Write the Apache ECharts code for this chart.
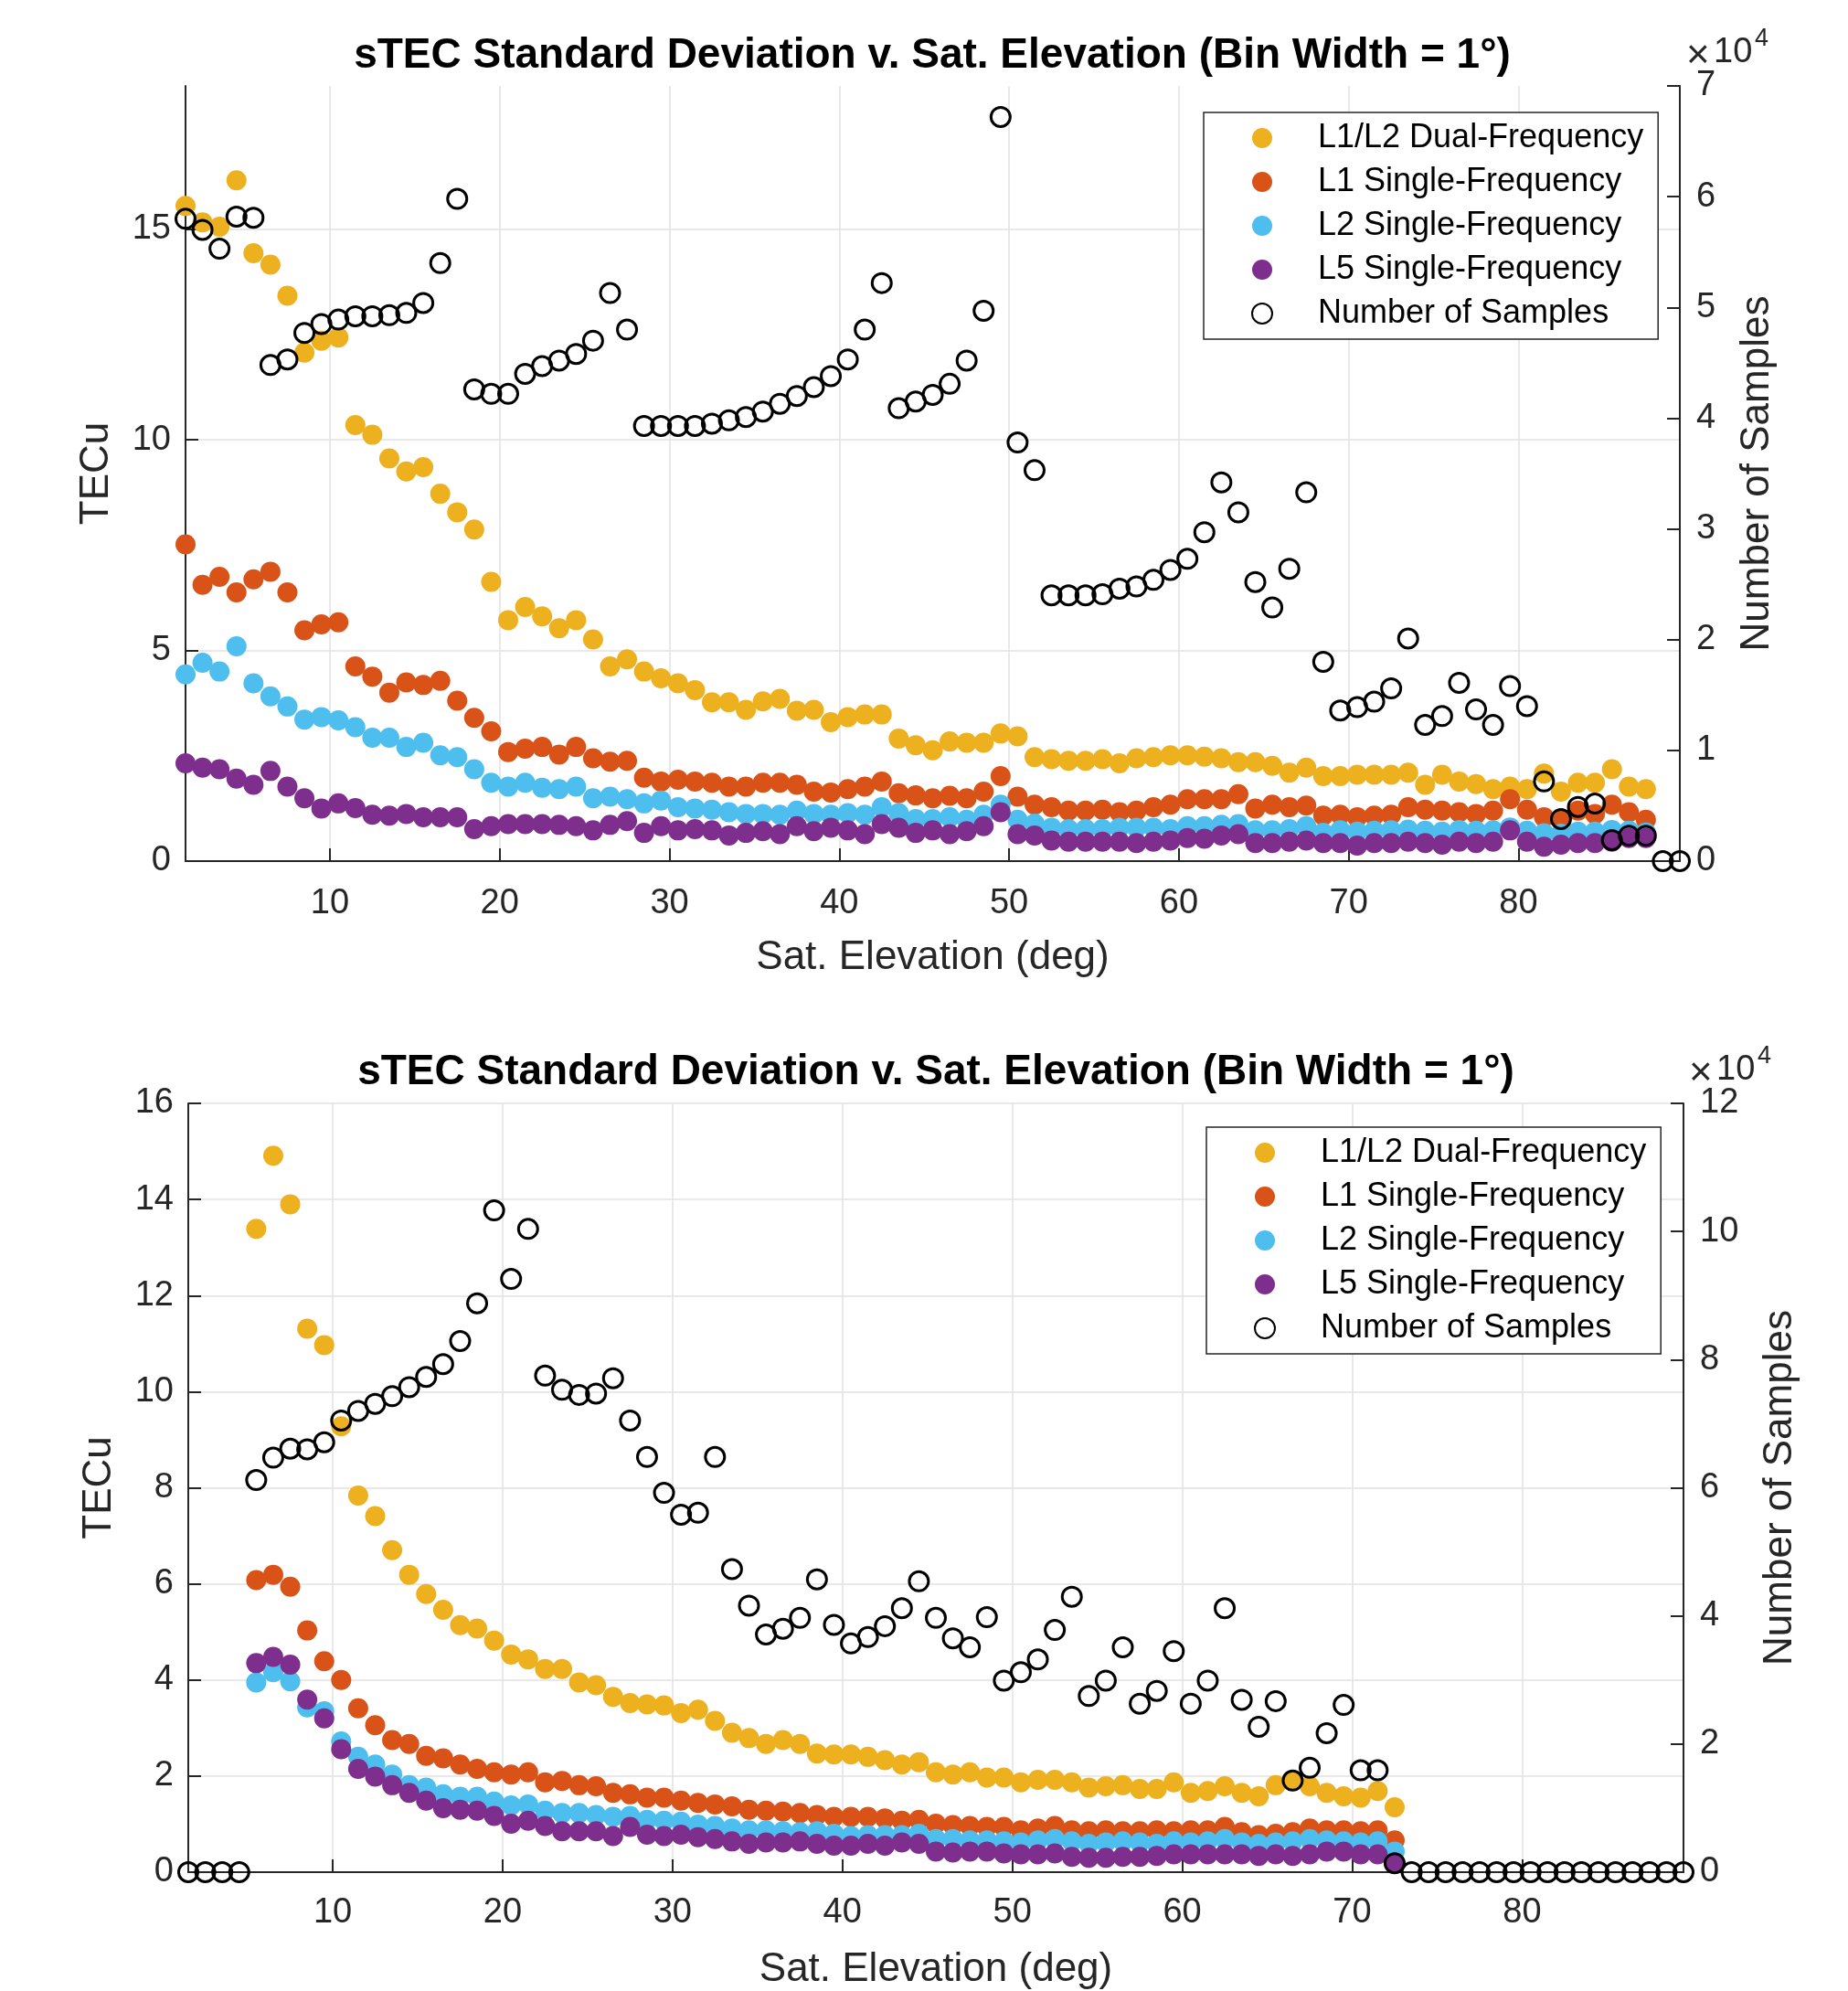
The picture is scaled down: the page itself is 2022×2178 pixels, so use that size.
<!DOCTYPE html>
<html><head><meta charset="utf-8">
<script src="https://cdn.jsdelivr.net/npm/echarts@6/dist/echarts.min.js"></script>
<style>html,body{margin:0;padding:0;background:#fff}#c{width:2022px;height:2178px}</style>
</head><body><div id="c"></div>
<script>
// Bin centres (deg)
const elevation = [1.5,2.5,3.5,4.5,5.5,6.5,7.5,8.5,9.5,10.5,11.5,12.5,13.5,14.5,15.5,16.5,17.5,18.5,19.5,20.5,
 21.5,22.5,23.5,24.5,25.5,26.5,27.5,28.5,29.5,30.5,31.5,32.5,33.5,34.5,35.5,36.5,37.5,38.5,39.5,40.5,
 41.5,42.5,43.5,44.5,45.5,46.5,47.5,48.5,49.5,50.5,51.5,52.5,53.5,54.5,55.5,56.5,57.5,58.5,59.5,60.5,
 61.5,62.5,63.5,64.5,65.5,66.5,67.5,68.5,69.5,70.5,71.5,72.5,73.5,74.5,75.5,76.5,77.5,78.5,79.5,80.5,
 81.5,82.5,83.5,84.5,85.5,86.5,87.5,88.5,89.5];
const xTicks = [10,20,30,40,50,60,70,80];
const seriesNames = ['L1/L2 Dual-Frequency','L1 Single-Frequency','L2 Single-Frequency','L5 Single-Frequency','Number of Samples'];

// ---------- Top panel (bins 1.5 .. 87.5 for TEC, 1.5 .. 89.5 for samples) ----------
const topDual = [15.55,15.16,15.06,16.16,14.43,14.16,13.42,12.07,12.35,12.43,10.35,10.12,9.56,9.25,9.35,8.72,8.28,7.87,6.63,5.72,
 6.03,5.81,5.53,5.72,5.26,4.62,4.79,4.50,4.34,4.22,4.06,3.77,3.77,3.59,3.79,3.85,3.57,3.59,3.30,3.42,
 3.48,3.48,2.91,2.75,2.63,2.84,2.81,2.81,3.03,2.96,2.47,2.42,2.38,2.38,2.42,2.32,2.44,2.47,2.51,2.51,
 2.48,2.44,2.35,2.35,2.26,2.10,2.22,2.02,2.02,2.05,2.05,2.05,2.10,1.81,2.05,1.89,1.83,1.71,1.77,1.71,
 2.08,1.65,1.86,1.86,2.18,1.77,1.71];
const topL1 = [7.52,6.56,6.75,6.38,6.69,6.87,6.38,5.48,5.62,5.67,4.62,4.38,4.00,4.24,4.18,4.28,3.81,3.40,3.08,2.59,
 2.67,2.71,2.53,2.71,2.44,2.36,2.38,1.98,1.89,1.93,1.89,1.86,1.77,1.77,1.86,1.86,1.81,1.65,1.63,1.71,
 1.77,1.89,1.61,1.56,1.49,1.55,1.49,1.65,2.02,1.53,1.34,1.28,1.20,1.20,1.22,1.16,1.20,1.28,1.34,1.47,
 1.47,1.47,1.59,1.25,1.34,1.28,1.32,1.08,1.10,1.04,1.08,1.10,1.28,1.22,1.20,1.16,1.12,1.20,1.47,1.22,
 1.04,1.00,1.20,1.12,1.34,1.16,0.98];
const topL2 = [4.43,4.71,4.50,5.10,4.22,3.91,3.67,3.36,3.42,3.34,3.18,2.93,2.93,2.71,2.81,2.51,2.47,2.18,1.86,1.77,
 1.86,1.74,1.71,1.77,1.49,1.53,1.47,1.37,1.44,1.28,1.25,1.22,1.16,1.12,1.12,1.10,1.20,1.12,1.10,1.14,
 1.10,1.28,1.14,1.00,1.00,1.04,0.98,1.10,1.34,0.98,0.89,0.79,0.76,0.76,0.76,0.79,0.79,0.79,0.76,0.83,
 0.83,0.86,0.88,0.73,0.73,0.76,0.83,0.67,0.73,0.70,0.72,0.73,0.75,0.72,0.70,0.74,0.72,0.73,0.80,0.72,
 0.66,0.65,0.70,0.70,0.74,0.72,0.68];
const topL5 = [2.32,2.22,2.18,1.96,1.81,2.14,1.77,1.49,1.25,1.37,1.26,1.10,1.08,1.12,1.04,1.04,1.04,0.76,0.83,0.88,
 0.88,0.88,0.86,0.83,0.73,0.86,0.95,0.67,0.83,0.73,0.76,0.73,0.61,0.67,0.71,0.64,0.83,0.71,0.79,0.73,
 0.64,0.88,0.79,0.67,0.73,0.64,0.71,0.83,1.16,0.64,0.61,0.49,0.46,0.46,0.46,0.46,0.43,0.46,0.49,0.55,
 0.53,0.61,0.64,0.43,0.43,0.46,0.49,0.43,0.43,0.37,0.43,0.43,0.46,0.43,0.39,0.46,0.43,0.46,0.73,0.46,
 0.34,0.39,0.43,0.43,0.46,0.55,0.55];
const topSamples = [58000,57000,55300,58200,58100,44800,45300,47700,48500,48900,49200,49200,49300,49500,50400,54000,59800,42600,42200,42200,
 44000,44700,45200,45800,47000,51300,48000,39300,39300,39300,39300,39500,39800,40100,40600,41300,42000,42800,43800,45300,
 48000,52200,40900,41500,42100,43100,45200,49700,67200,37800,35300,24000,24000,24000,24100,24600,24800,25400,26300,27300,
 29700,34200,31500,25200,22900,26400,33300,18000,13600,13900,14400,15600,20100,12300,13100,16100,13700,12300,15800,14000,
 7200,3800,4900,5200,1900,2300,2300,0,0];

// ---------- Bottom panel (bins 5.5 .. 72.5 for TEC, 1.5 .. 89.5 for samples) ----------
const botDual = [13.39,14.91,13.90,11.31,10.97,9.28,7.84,7.41,6.70,6.19,5.79,5.46,5.14,5.07,4.82,4.53,4.43,4.23,4.23,3.95,
 3.89,3.65,3.52,3.49,3.47,3.31,3.38,3.15,2.90,2.79,2.67,2.75,2.67,2.47,2.45,2.45,2.40,2.33,2.24,2.29,
 2.08,2.03,2.08,1.97,1.97,1.87,1.92,1.92,1.87,1.76,1.79,1.81,1.73,1.73,1.87,1.65,1.69,1.79,1.65,1.58,
 1.81,1.92,1.79,1.65,1.58,1.55,1.69,1.35];
const botL1 = [6.08,6.19,5.94,5.03,4.39,4.00,3.41,3.06,2.75,2.67,2.42,2.37,2.24,2.15,2.08,2.03,2.08,1.87,1.90,1.81,
 1.79,1.65,1.62,1.55,1.55,1.49,1.44,1.41,1.37,1.30,1.28,1.26,1.23,1.19,1.15,1.15,1.15,1.12,1.07,1.09,
 1.01,0.98,0.96,0.94,0.94,0.87,0.91,0.96,0.87,0.85,0.87,0.85,0.85,0.87,0.85,0.87,0.87,0.94,0.83,0.77,
 0.80,0.83,0.91,0.87,0.87,0.85,0.87,0.66];
const botL2 = [3.95,4.16,3.97,3.43,3.35,2.72,2.40,2.24,2.03,1.81,1.76,1.62,1.57,1.57,1.47,1.39,1.41,1.28,1.23,1.23,
 1.19,1.15,1.17,1.09,1.07,1.05,0.99,0.96,0.91,0.87,0.87,0.85,0.83,0.85,0.80,0.75,0.77,0.77,0.77,0.80,
 0.69,0.69,0.66,0.66,0.64,0.62,0.66,0.69,0.64,0.59,0.62,0.64,0.62,0.59,0.64,0.62,0.64,0.69,0.62,0.59,
 0.62,0.64,0.69,0.66,0.64,0.62,0.64,0.43];
const botL5 = [4.35,4.48,4.32,3.59,3.20,2.56,2.15,1.99,1.81,1.65,1.49,1.33,1.30,1.28,1.17,1.01,1.07,0.96,0.85,0.85,
 0.85,0.75,0.94,0.78,0.75,0.78,0.73,0.69,0.64,0.59,0.62,0.62,0.64,0.59,0.55,0.55,0.59,0.55,0.62,0.59,
 0.43,0.41,0.43,0.43,0.39,0.37,0.37,0.39,0.32,0.30,0.30,0.32,0.32,0.34,0.37,0.37,0.37,0.37,0.37,0.34,
 0.37,0.34,0.37,0.43,0.43,0.37,0.37,0.19];
const botSamples = [0,0,0,0,61200,64700,66100,66000,67100,70500,72000,73100,74300,75700,77300,79300,82900,88800,103300,92600,
 100400,77500,75300,74500,74700,77100,70500,64800,59200,55800,56100,64800,47300,41600,37100,38000,39700,45700,38600,35700,
 36700,38400,41200,45400,39700,36500,35100,39800,29900,31200,33200,37800,43000,27500,29900,35100,26300,28300,34500,26300,
 29900,41200,26900,22700,26700,14300,16300,21700,26100,15900,15900,1400,0,0,0,0,0,0,0,0,
 0,0,0,0,0,0,0,0,0];

const FONT = '"Liberation Sans", Arial, Helvetica, sans-serif';
const AX = '#262626';
const COLORS = ['#EDB120','#D95319','#4DBEEE','#7E2F8E'];
const pair = (xs, ys) => ys.map((v, i) => [xs[i], v]);

function xAxisCfg(gi, gap, margin) {
  return {
    type: 'value', gridIndex: gi, min: 1.5, max: 89.5,
    name: 'Sat. Elevation (deg)', nameLocation: 'middle', nameGap: gap,
    nameTextStyle: {fontSize: 44, color: AX, fontFamily: FONT},
    axisLine: {show: true, onZero: false, lineStyle: {color: AX, width: 2}},
    axisTick: {show: true, inside: true, length: 14, customValues: xTicks, lineStyle: {color: AX, width: 2}},
    axisLabel: {customValues: xTicks, fontSize: 38, color: AX, margin: margin, fontFamily: FONT},
    splitLine: {show: true, lineStyle: {color: '#e2e2e2', width: 1.5}}
  };
}
function yLeft(gi, max, ticks, gap) {
  return {
    type: 'value', gridIndex: gi, position: 'left', min: 0, max: max,
    name: 'TECu', nameLocation: 'middle', nameGap: gap, nameRotate: 90,
    nameTextStyle: {fontSize: 44, color: AX, fontFamily: FONT},
    axisLine: {show: true, lineStyle: {color: AX, width: 2}},
    axisTick: {show: true, inside: true, length: 14, customValues: ticks, lineStyle: {color: AX, width: 2}},
    axisLabel: {customValues: ticks, fontSize: 38, color: AX, margin: 16, fontFamily: FONT},
    splitLine: {show: true, lineStyle: {color: '#e2e2e2', width: 1.5}}
  };
}
function yRight(gi, max, ticks, gap) {
  return {
    type: 'value', gridIndex: gi, position: 'right', min: 0, max: max,
    name: 'Number of Samples', nameLocation: 'middle', nameGap: gap, nameRotate: 90,
    nameTextStyle: {fontSize: 44, color: AX, fontFamily: FONT},
    axisLine: {show: true, lineStyle: {color: AX, width: 2}},
    axisTick: {show: true, inside: true, length: 14, customValues: ticks, lineStyle: {color: AX, width: 2}},
    axisLabel: {customValues: ticks, fontSize: 38, color: AX, margin: 18, fontFamily: FONT,
      formatter: v => String(Math.round(v / 10000))},
    splitLine: {show: false}
  };
}
function tecSeries(name, xi, yi, data, color) {
  return {type: 'scatter', name, xAxisIndex: xi, yAxisIndex: yi, data, symbol: 'circle', symbolSize: 22,
    itemStyle: {color, opacity: 1}, clip: false, z: 2, emphasis: {disabled: true}};
}
function sampleSeries(xi, yi, data) {
  return {type: 'scatter', name: 'Number of Samples', xAxisIndex: xi, yAxisIndex: yi, data, symbol: 'circle', symbolSize: 21,
    itemStyle: {color: 'rgba(255,255,255,0)', borderColor: '#000', borderWidth: 3, opacity: 1}, clip: false, z: 3,
    emphasis: {disabled: true}};
}
function legendCfg(left, top) {
  return {
    orient: 'vertical', left, top, data: seriesNames, selectedMode: false,
    itemWidth: 112, itemHeight: 22, itemGap: 12, padding: [10, 16, 10, 52],
    borderColor: AX, borderWidth: 1.5, backgroundColor: '#fff',
    textStyle: {fontSize: 36, color: '#000', fontFamily: FONT}
  };
}
function titleCfg(x, y) {
  return {text: 'sTEC Standard Deviation v. Sat. Elevation (Bin Width = 1°)', left: x, top: y,
    textAlign: 'center', textVerticalAlign: 'middle', padding: 0,
    textStyle: {fontSize: 46, fontWeight: 'bold', color: '#000', fontFamily: FONT}};
}
function expLabel(x, y) {
  return [
    {type: 'text', x: x - 2, y: y + 4, style: {text: '×', fontSize: 44, fill: AX, font: '44px ' + FONT, verticalAlign: 'middle', align: 'left'}},
    {type: 'text', x: x + 28, y: y, style: {text: '10', fontSize: 38, fill: AX, font: '38px ' + FONT, verticalAlign: 'middle', align: 'left'}},
    {type: 'text', x: x + 73, y: y - 15, style: {text: '4', fontSize: 27, fill: AX, font: '27px ' + FONT, verticalAlign: 'middle', align: 'left'}}
  ];
}

const xTop = elevation.slice(0, 87);
const xBot = elevation.slice(4, 72);

const option = {
  animation: false,
  backgroundColor: '#fff',
  title: [titleCfg(1020, 61), titleCfg(1024, 1173)],
  legend: [legendCfg(1317, 123), legendCfg(1320, 1233)],
  grid: [
    {left: 203, top: 94, width: 1635, height: 848, containLabel: false},
    {left: 206, top: 1207, width: 1636, height: 845, containLabel: false}
  ],
  xAxis: [xAxisCfg(0, 84, 28), xAxisCfg(1, 85, 26)],
  yAxis: [
    yLeft(0, 18.4, [0,5,10,15], 75),
    yRight(0, 70000, [0,10000,20000,30000,40000,50000,60000,70000], 63),
    yLeft(1, 16, [0,2,4,6,8,10,12,14,16], 75),
    yRight(1, 120000, [0,20000,40000,60000,80000,100000,120000], 84)
  ],
  graphic: [].concat(expLabel(1847, 58), expLabel(1850, 1171)),
  series: [
    tecSeries(seriesNames[0], 0, 0, pair(xTop, topDual), COLORS[0]),
    tecSeries(seriesNames[1], 0, 0, pair(xTop, topL1), COLORS[1]),
    tecSeries(seriesNames[2], 0, 0, pair(xTop, topL2), COLORS[2]),
    tecSeries(seriesNames[3], 0, 0, pair(xTop, topL5), COLORS[3]),
    sampleSeries(0, 1, pair(elevation, topSamples)),
    tecSeries(seriesNames[0], 1, 2, pair(xBot, botDual), COLORS[0]),
    tecSeries(seriesNames[1], 1, 2, pair(xBot, botL1), COLORS[1]),
    tecSeries(seriesNames[2], 1, 2, pair(xBot, botL2), COLORS[2]),
    tecSeries(seriesNames[3], 1, 2, pair(xBot, botL5), COLORS[3]),
    sampleSeries(1, 3, pair(elevation, botSamples))
  ]
};
const chart = echarts.init(document.getElementById('c'), null, {renderer: 'canvas'});
chart.setOption(option);
</script>
</body></html>
